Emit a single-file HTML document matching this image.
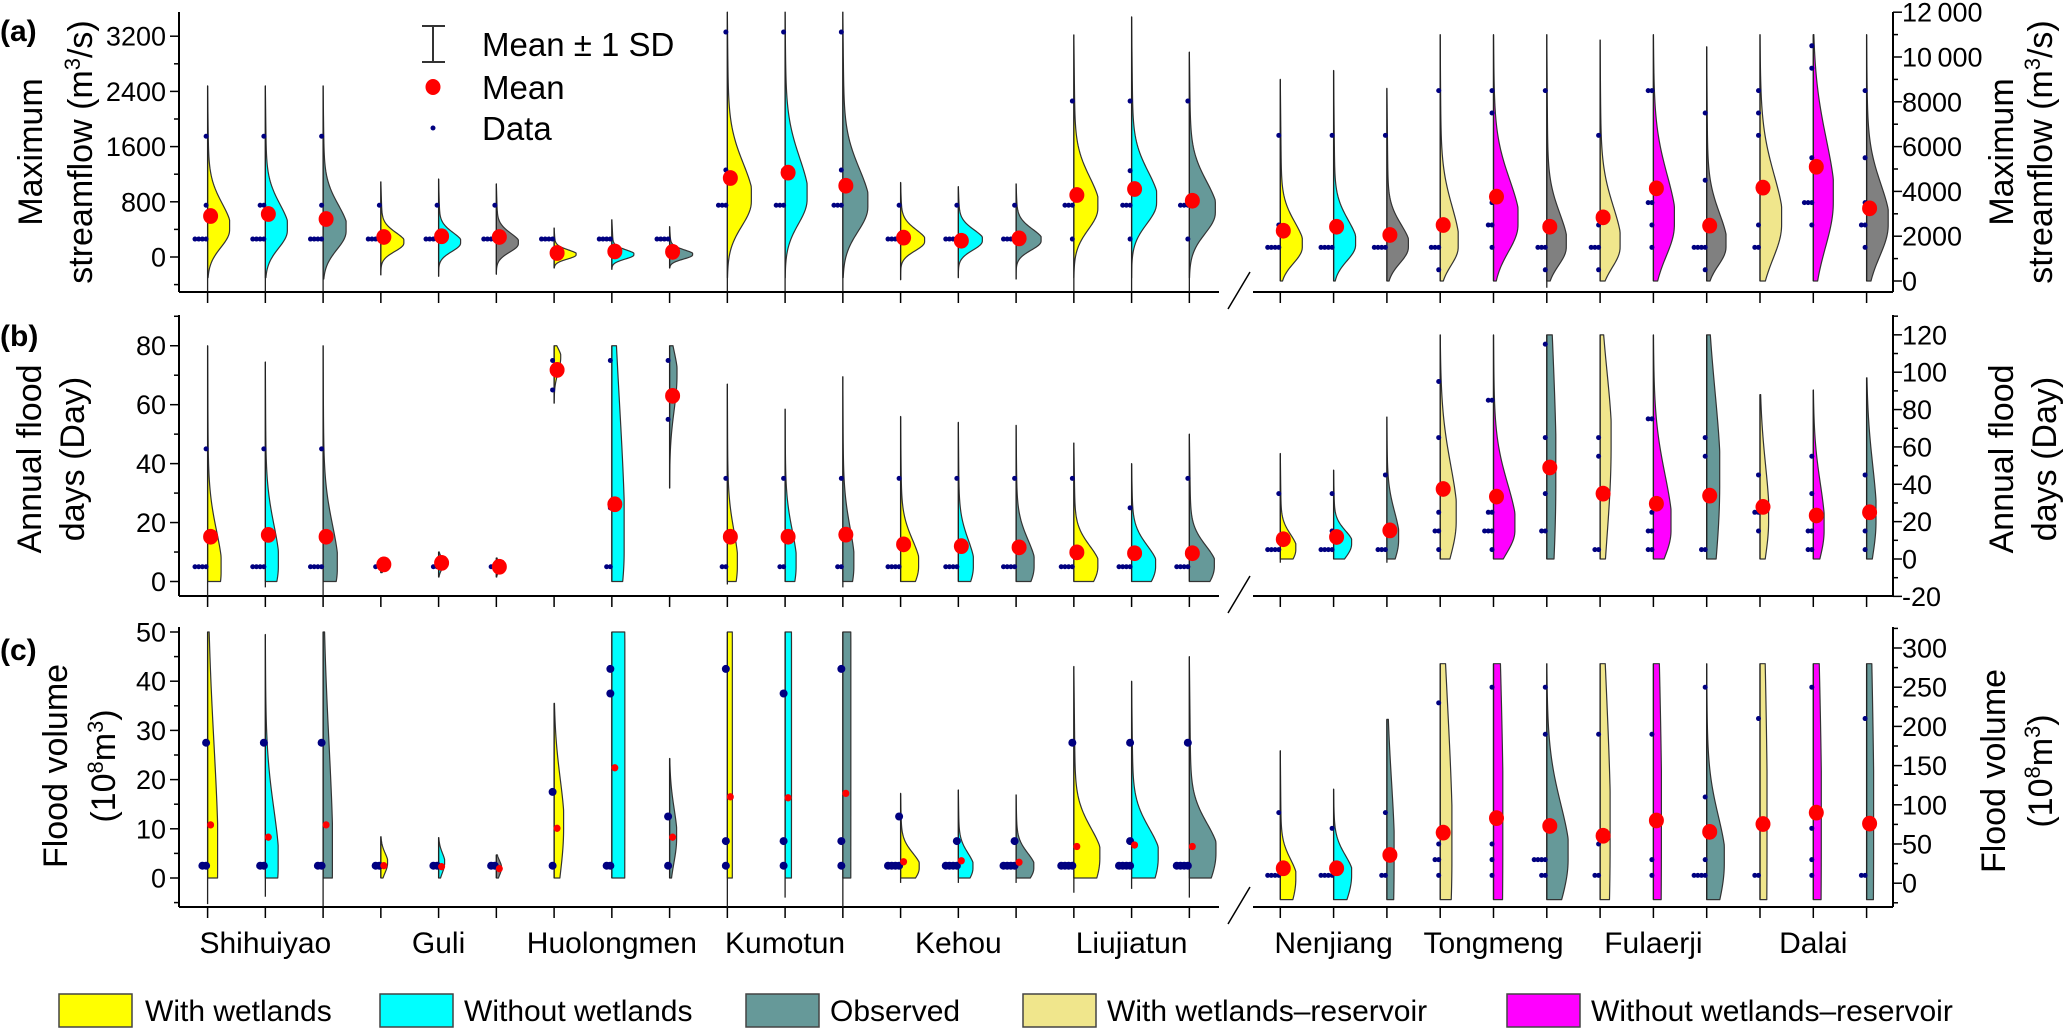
<!DOCTYPE html>
<html>
<head>
<meta charset="utf-8">
<style>
html,body{margin:0;padding:0;background:#fff;}
svg{display:block;font-family:"Liberation Sans",Arial,sans-serif;}
</style>
</head>
<body>
<svg id="chart" width="2067" height="1029" viewBox="0 0 2067 1029" xmlns="http://www.w3.org/2000/svg">
  <g id="axes"></g>
  <g id="marks"></g>
  <g id="labels">
    <text x="0" y="41" font-size="30" font-weight="bold">(a)</text>
    <text x="0" y="346" font-size="30" font-weight="bold">(b)</text>
    <text x="0" y="660" font-size="30" font-weight="bold">(c)</text>

    <text font-size="34" text-anchor="middle" transform="translate(42,152) rotate(-90)">Maximum</text>
    <text font-size="34" text-anchor="middle" transform="translate(92,152) rotate(-90)">streamflow (m<tspan dy="-12" font-size="22">3</tspan><tspan dy="12">/s)</tspan></text>
    <text font-size="34" text-anchor="middle" transform="translate(2013,152) rotate(-90)">Maximum</text>
    <text font-size="34" text-anchor="middle" transform="translate(2052,152) rotate(-90)">streamflow (m<tspan dy="-12" font-size="22">3</tspan><tspan dy="12">/s)</tspan></text>

    <text font-size="34" text-anchor="middle" transform="translate(41,459) rotate(-90)">Annual flood</text>
    <text font-size="34" text-anchor="middle" transform="translate(84,459) rotate(-90)">days (Day)</text>
    <text font-size="34" text-anchor="middle" transform="translate(2013,459) rotate(-90)">Annual flood</text>
    <text font-size="34" text-anchor="middle" transform="translate(2056,459) rotate(-90)">days (Day)</text>

    <text font-size="34" text-anchor="middle" transform="translate(67,766) rotate(-90)">Flood volume</text>
    <text font-size="34" text-anchor="middle" transform="translate(115,766) rotate(-90)">(10<tspan dy="-12" font-size="22">8</tspan><tspan dy="12">m</tspan><tspan dy="-12" font-size="22">3</tspan><tspan dy="12">)</tspan></text>
    <text font-size="34" text-anchor="middle" transform="translate(2005,771) rotate(-90)">Flood volume</text>
    <text font-size="34" text-anchor="middle" transform="translate(2052,771) rotate(-90)">(10<tspan dy="-12" font-size="22">8</tspan><tspan dy="12">m</tspan><tspan dy="-12" font-size="22">3</tspan><tspan dy="12">)</tspan></text>

    <g>
      <line x1="433" y1="26" x2="433" y2="62" stroke="#333" stroke-width="2"/>
      <line x1="422" y1="26" x2="445" y2="26" stroke="#333" stroke-width="2"/>
      <line x1="422" y1="62" x2="445" y2="62" stroke="#333" stroke-width="2"/>
      <text x="482" y="56" font-size="33">Mean ± 1 SD</text>
      <ellipse cx="433" cy="87" rx="7.5" ry="8" fill="#ff0000"/>
      <text x="482" y="99" font-size="33">Mean</text>
      <circle cx="433" cy="128" r="2.5" fill="#000080"/>
      <text x="482" y="140" font-size="33">Data</text>
    </g>

    <g font-size="30">
      <rect x="59" y="994" width="73" height="33" fill="#ffff00" stroke="#444" stroke-width="1.5"/>
      <text x="145" y="1021">With wetlands</text>
      <rect x="380" y="994" width="73" height="33" fill="#00ffff" stroke="#444" stroke-width="1.5"/>
      <text x="464" y="1021">Without wetlands</text>
      <rect x="746" y="994" width="73" height="33" fill="#669999" stroke="#444" stroke-width="1.5"/>
      <text x="830" y="1021">Observed</text>
      <rect x="1023" y="994" width="73" height="33" fill="#f0e68c" stroke="#444" stroke-width="1.5"/>
      <text x="1107" y="1021">With wetlands–reservoir</text>
      <rect x="1507" y="994" width="73" height="33" fill="#ff00ff" stroke="#444" stroke-width="1.5"/>
      <text x="1591" y="1021">Without wetlands–reservoir</text>
    </g>
  </g>
</svg>
<script>
// ---------- data ----------
const leftStations = ["Shihuiyao","Guli","Huolongmen","Kumotun","Kehou","Liujiatun"];
const rightStations = ["Nenjiang","Tongmeng","Fulaerji","Dalai"];
const leftColors = ["#ffff00","#00ffff","#669999","#ffff00","#00ffff","#808080","#ffff00","#00ffff","#669999","#ffff00","#00ffff","#669999","#ffff00","#00ffff","#669999","#ffff00","#00ffff","#669999"];
const aRightColors = ["#ffff00","#00ffff","#808080","#f0e68c","#ff00ff","#808080","#f0e68c","#ff00ff","#808080","#f0e68c","#ff00ff","#808080"];
const bcRightColors = ["#ffff00","#00ffff","#669999","#f0e68c","#ff00ff","#669999","#f0e68c","#ff00ff","#669999","#f0e68c","#ff00ff","#669999"];

// shape tuples: [lineLo, fillLo, hi, mode, density width, spreadBelow, spreadAbove]
const aLeftShape = [[-500,-300,2480,390,22,250,380],[-500,-300,2480,380,22,250,380],[-500,-320,2480,370,23,260,380],[-260,-260,1090,200,23,120,150],[-280,-280,1130,200,22,120,150],[-250,-250,1060,190,22,120,150],[-160,-160,420,30,22,60,70],[-180,-180,540,30,22,60,70],[-160,-160,440,30,23,60,70],[-500,-300,3550,800,24,350,550],[-500,-300,3550,830,22,350,600],[-500,-300,3550,720,25,350,550],[-330,-330,1080,220,24,130,170],[-300,-300,1020,230,24,130,160],[-320,-320,1060,230,25,130,170],[-500,-300,3220,700,24,300,450],[-500,-300,3480,780,25,300,450],[-500,-300,2970,640,26,300,450]];
const aLeftMean = [594,623,550,290,300,290,58,80,75,1145,1222,1033,280,236,270,898,985,816];
const aLeftData = [[260,260,260,260,750,1750],[260,260,260,260,750,750,1750],[260,260,260,260,750,1750],[260,260,260,260,750],[260,260,260,260,750],[260,260,260,260,750],[260,260,260,260],[260,260,260,260],[260,260,260,260],[750,750,750,1260,3260],[750,750,750,1260,3260],[750,750,750,1260,3260],[260,260,260,260,750],[260,260,260,260,750],[260,260,260,260,750],[260,750,750,750,2260],[260,750,750,750,1250,2260],[260,750,750,750,2260]];

const aRightShape = [[0,0,9000,1500,22,700,1100],[0,0,9400,1600,22,700,1100],[0,0,8600,1500,21.5,700,1000],[0,0,11000,1500,18,800,1800],[0,0,11000,2500,24.5,1200,2000],[-300,0,11000,1500,19.5,800,1500],[0,0,10760,1500,20,900,1800],[0,0,11000,2500,21,1400,2200],[0,0,10460,1500,19.3,800,1500],[0,0,11000,2500,21.6,1500,2200],[0,0,11000,3500,20,2000,2800],[0,0,11000,2500,21.6,1400,1800]];
const aRightMean = [2246,2424,2054,2500,3764,2424,2842,4137,2470,4167,5100,3244];
const aRightData = [[1500,1500,1500,1500,2500,6500],[1500,1500,1500,1500,2500,6500],[1500,1500,1500,1500,6500],[500,1500,1500,1500,2500,8500],[1500,2500,2500,3500,7500,8500],[500,1500,1500,1500,2500,8500],[500,1500,1500,1500,2500,6500],[1500,2500,3500,3500,8500,8500],[500,1500,1500,1500,1500,4500,7500],[1500,1500,2500,6500,7500,8500],[2500,3500,3500,3500,5500,9500,10500],[1500,2500,2500,3500,5500,8500]];

const bLeftShape = [[-5,0,80,3,13.5,10,14],[-2,0,74.5,5,13,10,14],[-5,0,80,4,14.2,10,15],[3,3,8,5.5,5,1.5,1.2],[1.5,1.5,10,6,5,2,2],[1.5,1.5,8,5,5,1.5,1.5],[60.5,60.5,80,76,6.6,5,3],[0,0,80,10,12.3,20,50],[31.7,31.7,80,70,7.4,12,8],[-1,0,67,5,10,10,12],[0,0,58.5,5,11,10,12],[-2,0,69.5,5,11,10,13],[0,0,56,5,18,8,9],[0,0,54,5,15,8,9],[0,0,53,5,18,8,9],[0,0,47,5,24,8,7],[0,0,40,5,24,8,7],[0,0,50,5,25,8,7]];
const bLeftMean = [15.2,15.8,15.2,5.8,6.3,5,71.8,26.2,63,15.2,15.2,15.9,12.6,12,11.6,9.9,9.6,9.6];
const bLeftData = [[5,5,5,5,45],[5,5,5,5,45],[5,5,5,5,45],[5,5],[5,5],[5,5],[65,75],[5,5,25,75],[55,75],[5,5,35],[5,5,35],[5,5,35],[5,5,5,5,35],[5,5,5,5,35],[5,5,5,5,35],[5,5,5,5,35],[5,5,5,5,25],[5,5,5,5,35]];

const bRightShape = [[-2,0,56.5,5,15.5,8,8],[0,0,47.6,8,18,8,7],[-2,0,76,10,11.7,12,15],[0,0,120,20,16,20,30],[0,0,120,15,21.4,12,25],[0,0,120,40,9,60,80],[0,0,120,60,11,50,40],[0,0,120,15,17.6,15,30],[0,0,120,40,13,50,50],[0,0,88,20,8.6,20,30],[0,0,90.5,15,10.8,15,25],[0,0,97,20,9.4,20,30]];
const bRightMean = [10.6,11.8,15.3,37.5,33.4,49,35,29.6,33.9,27.9,23.3,25];
const bRightData = [[5,5,5,5,35],[5,5,5,5,15,35],[5,5,5,45],[5,15,15,25,65,95],[5,15,15,15,25,25,85,85],[15,15,35,65,115],[5,5,55,65],[5,5,15,15,25,75,75],[5,5,55,65],[15,25,25,45],[5,5,15,15,35,55],[5,15,45]];

const cLeftShape = [[-5.3,0,50,2,10,20,25],[-3.8,0,49.5,2,12.8,8,12],[-5.8,0,50,2,9.3,20,25],[0,0,8.4,3,6.7,2,2],[0,0,8.2,3,6,2,2],[0,0,4.7,2,5,1.5,1.5],[0,0,35.5,10,9.5,10,10],[0,0,50,25,13,200,200],[0,0,24.3,8,7,5,6],[-6,0,50,25,5,200,200],[-4,0,50,25,6.4,200,200],[-6,0,50,25,8,200,200],[-1,0,17.2,2,18.6,3,3],[-1,0,17.9,2,14.6,3,3],[-1,0,16.9,2,17.7,3,3],[-3,0,43,4,26,8,6],[-2.2,0,40,4,26.6,8,6],[-4,0,45,5,26.6,8,6]];
const cLeftMean = [10.8,8.3,10.8,2.5,2.3,1.9,10.1,22.4,8.3,16.5,16.3,17.2,3.3,3.5,3.2,6.4,6.7,6.4];
const cLeftData = [[2.5,2.5,27.5],[2.5,2.5,27.5],[2.5,2.5,27.5],[2.5,2.5],[2.5,2.5],[2.5,2.5],[2.5,17.5],[2.5,2.5,37.5,42.5],[2.5,12.5],[2.5,7.5,42.5],[2.5,7.5,37.5],[2.5,7.5,42.5],[2.5,2.5,2.5,2.5,12.5],[2.5,2.5,2.5,2.5,7.5],[2.5,2.5,2.5,2.5,7.5],[2.5,2.5,2.5,2.5,27.5],[2.5,2.5,2.5,2.5,7.5,27.5],[2.5,2.5,2.5,2.5,27.5]];

const cRightShape = [[-21,-21,169,5,15.5,40,25],[-21,-21,120,10,18,40,25],[-21,-21,209,30,7.2,150,100],[-21,-21,280,30,11.7,150,200],[-21,-21,280,50,9.3,300,300],[-21,-21,280,30,21.3,60,70],[-21,-21,280,50,10,200,200],[-21,-21,280,50,8,300,300],[-21,-21,280,25,17.6,60,60],[-21,-21,280,50,7,300,300],[-21,-21,280,50,8,300,300],[-21,-21,280,50,7,300,300]];
const cRightMean = [19,19,36,64.5,83,73,60.5,80,65.5,75.5,90,76];
const cRightData = [[10,10,10,10,90],[10,10,10,10,70],[10,10,90],[10,30,30,50,230],[10,30,50,250],[10,10,30,30,30,30,190,250],[10,10,50,190],[10,30,190],[10,10,10,10,30,110,250],[10,10,210],[10,30,70,250],[10,10,210]];

const aLeftTicks = [0,800,1600,2400,3200];
const aRightTicks = [0,2000,4000,6000,8000,10000,12000];
const aRightTickLabels = ["0","2000","4000","6000","8000","10\u2009000","12\u2009000"];
const bLeftTicks = [0,20,40,60,80];
const bRightTicks = [-20,0,20,40,60,80,100,120];
const cLeftTicks = [0,10,20,30,40,50];
const cRightTicks = [0,50,100,150,200,250,300];

// ---------- geometry ----------
const NS = "http://www.w3.org/2000/svg";
const axesG = document.getElementById("axes");
const marksG = document.getElementById("marks");
const LX0 = 179, LX1 = 1219, RX0 = 1253, RX1 = 1893;
const panels = [
  {top:12, bot:292, lScale:v=>257 - v*0.069, rScale:v=>281 - v*0.0224, lMinor:400, rMinor:1000},
  {top:315, bot:596, lScale:v=>581.5 - v*2.947, rScale:v=>559 - v*1.868, lMinor:10, rMinor:10},
  {top:627, bot:907, lScale:v=>878 - v*4.92, rScale:v=>883.2 - v*0.784, lMinor:5, rMinor:25}
];
function xLeft(i){ return 207.6 + 57.75*i; }
function xRight(k){ return 1280.3 + 53.3*k; }

function mk(tag, attrs, parent){
  const e = document.createElementNS(NS, tag);
  for (const k in attrs) e.setAttribute(k, attrs[k]);
  parent.appendChild(e);
  return e;
}

// axes
panels.forEach((p, pi) => {
  const letter = "abc"[pi];
  let e;
  e = mk("line",{x1:LX0,y1:p.top,x2:LX0,y2:p.bot,stroke:"#000","stroke-width":2},axesG);
  
  
  e = mk("line",{x1:LX0,y1:p.bot,x2:LX1,y2:p.bot,stroke:"#000","stroke-width":2},axesG);
  
  
  e = mk("line",{x1:RX1,y1:p.top,x2:RX1,y2:p.bot,stroke:"#000","stroke-width":2},axesG);
  
  
  e = mk("line",{x1:RX0,y1:p.bot,x2:RX1,y2:p.bot,stroke:"#000","stroke-width":2},axesG);
  
  
  e = mk("line",{x1:1250,y1:p.bot-20,x2:1228,y2:p.bot+17,stroke:"#000","stroke-width":1.5},axesG);
  
  
  for (let i=0;i<18;i++){
    e = mk("line",{x1:xLeft(i),y1:p.bot,x2:xLeft(i),y2:p.bot+11,stroke:"#000","stroke-width":1.5},axesG);
    
    
  }
  for (let k=0;k<12;k++){
    e = mk("line",{x1:xRight(k),y1:p.bot,x2:xRight(k),y2:p.bot+11,stroke:"#000","stroke-width":1.5},axesG);
    
    
  }
});

function yTicks(ticks, labels, scale, minor, top, bot, side){
  const ax = side === "left" ? LX0 : RX1;
  const dir = side === "left" ? -1 : 1;
  const lo = ticks[0] - minor*4, hi = ticks[ticks.length-1] + minor*4;
  for (let v = lo; v <= hi; v += minor){
    const y = scale(v);
    if (y < top - 0.5 || y > bot + 0.5) continue;
    const major = ticks.some(t => Math.abs(t - v) < 1e-6);
    const e = mk("line",{x1:ax,y1:y,x2:ax+dir*(major?9:5),y2:y,stroke:"#000","stroke-width":1.5},axesG);
    
    
  }
  ticks.forEach((t, i) => {
    const y = scale(t);
    const e = mk("text",{x: side==="left" ? ax-13 : ax+9, y: y+9.5, "font-size":27, "text-anchor": side==="left"?"end":"start"},axesG);
    e.textContent = labels ? labels[i] : String(t);
    
    
  });
}
yTicks(aLeftTicks, null, panels[0].lScale, 400, panels[0].top, panels[0].bot, "left");
yTicks(aRightTicks, aRightTickLabels, panels[0].rScale, 1000, panels[0].top, panels[0].bot, "right");
yTicks(bLeftTicks, null, panels[1].lScale, 10, panels[1].top, panels[1].bot, "left");
yTicks(bRightTicks, null, panels[1].rScale, 10, panels[1].top, panels[1].bot, "right");
yTicks(cLeftTicks, null, panels[2].lScale, 5, panels[2].top, panels[2].bot, "left");
yTicks(cRightTicks, null, panels[2].rScale, 25, panels[2].top, panels[2].bot, "right");

// station labels
leftStations.forEach((s, j) => {
  const e = mk("text",{x:xLeft(3*j+1), y:953, "font-size":30, "text-anchor":"middle"}, axesG);
  e.textContent = s;
  
  
});
rightStations.forEach((s, j) => {
  const e = mk("text",{x:xRight(3*j+1), y:953, "font-size":30, "text-anchor":"middle"}, axesG);
  e.textContent = s;
  
  
});

// violins
function widthAt(v, sh){
  const mode = sh[3], w = sh[4], sLo = sh[5], sHi = sh[6], hi = sh[2];
  const s = v < mode ? sLo : sHi;
  let g = Math.exp(-0.5*Math.pow((v-mode)/s,2));
  if (v > mode) g += 0.08*(hi - v)/(hi - mode);
  return w*Math.min(g,1);
}
function drawSet(shapes, means, data, colors, xf, scale, meanR, dotR, tag){
  shapes.forEach((sh, i) => {
    const x = xf(i);
    const g = mk("g",{},marksG);
    
    
    const [lineLo, fillLo, hi] = sh;
    const N = 90;
    let d = "M" + x + "," + scale(fillLo).toFixed(2);
    for (let k=0;k<=N;k++){
      const v = fillLo + (hi - fillLo)*k/N;
      d += " L" + (x + widthAt(v, sh)).toFixed(2) + "," + scale(v).toFixed(2);
    }
    d += " L" + x + "," + scale(hi).toFixed(2) + " Z";
    const p = mk("path",{d:d, fill:colors[i], stroke:"#333", "stroke-width":1.2, "stroke-linejoin":"round"}, g);
    
    
    const ln = mk("line",{x1:x,y1:scale(lineLo),x2:x,y2:scale(hi),stroke:"#222","stroke-width":1.3}, g);
    
    
    // data points, duplicates stacked to the left
    const counts = {};
    data[i].forEach(v => {
      const c = counts[v] || 0; counts[v] = c + 1;
      const dot = mk("circle",{cx: x - 1.5 - c*3.7, cy: scale(v), r: dotR, fill:"#000080"}, g);
      
      
    });
    const m = mk("ellipse",{cx: x+3, cy: scale(means[i]), rx: meanR, ry: meanR*1.05, fill:"#ff0000"}, g);
    
    
  });
}
drawSet(aLeftShape, aLeftMean, aLeftData, leftColors, xLeft, panels[0].lScale, 7.5, 2.5, "a-left");
drawSet(aRightShape, aRightMean, aRightData, aRightColors, xRight, panels[0].rScale, 7.5, 2.5, "a-right");
drawSet(bLeftShape, bLeftMean, bLeftData, leftColors, xLeft, panels[1].lScale, 7.5, 2.5, "b-left");
drawSet(bRightShape, bRightMean, bRightData, bcRightColors, xRight, panels[1].rScale, 7.5, 2.5, "b-right");
drawSet(cLeftShape, cLeftMean, cLeftData, leftColors, xLeft, panels[2].lScale, 3.5, 4, "c-left");
drawSet(cRightShape, cRightMean, cRightData, bcRightColors, xRight, panels[2].rScale, 7.5, 2.5, "c-right");
</script>
</body>
</html>
